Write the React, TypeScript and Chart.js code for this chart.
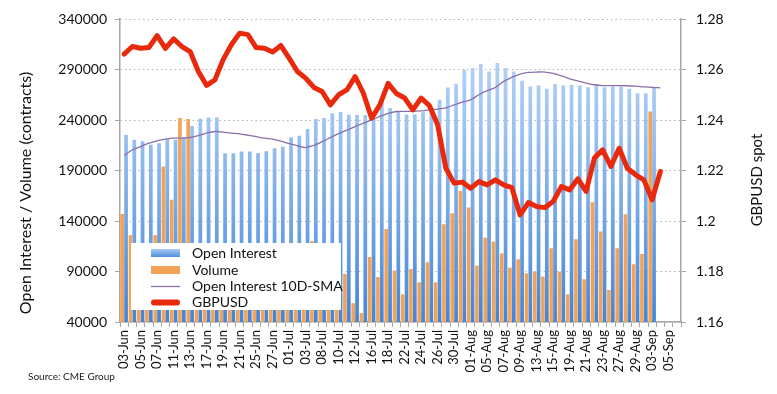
import React, { useEffect, useRef } from "react";
import { Chart, registerables } from "chart.js";

Chart.register(...registerables);

const categories = [
  "03-Jun","04-Jun","05-Jun","06-Jun","07-Jun","10-Jun","11-Jun","12-Jun","13-Jun","14-Jun",
  "17-Jun","18-Jun","19-Jun","20-Jun","21-Jun","24-Jun","25-Jun","26-Jun","27-Jun","28-Jun",
  "01-Jul","02-Jul","03-Jul","05-Jul","08-Jul","09-Jul","10-Jul","11-Jul","12-Jul","15-Jul",
  "16-Jul","17-Jul","18-Jul","19-Jul","22-Jul","23-Jul","24-Jul","25-Jul","26-Jul","29-Jul",
  "30-Jul","31-Jul","01-Aug","02-Aug","05-Aug","06-Aug","07-Aug","08-Aug","09-Aug","12-Aug",
  "13-Aug","14-Aug","15-Aug","16-Aug","19-Aug","20-Aug","21-Aug","22-Aug","23-Aug","26-Aug",
  "27-Aug","28-Aug","29-Aug","30-Aug","03-Sep","04-Sep","05-Sep","06-Sep",
];

const openInterest = [
  225300, 220400, 219000, 215400, 217000, 221000, 220400, 223000, 234000, 241200,
  242500, 242500, 207000, 207000, 208800, 208800, 207200, 209000, 212000, 213400,
  222800, 224300, 231000, 241000, 242000, 246800, 247800, 245100, 245000, 245000,
  241200, 257700, 251800, 247800, 245500, 245800, 247800, 248400, 260000, 272300,
  276000, 289700, 291400, 295500, 288000, 296400, 291400, 288000, 278800, 273200,
  274100, 270900, 275600, 274100, 275000, 274100, 272500, 275600, 272500, 273200,
  273200, 270900, 266600, 266600, 271600,
];

const volume = [
  147000, 126000, 95000, 100000, 126000, 194000, 161000, 242000, 241000, 90000,
  80000, 105000, 75000, 85000, 70000, 95000, 80000, 100000, 65000, 90000,
  110000, 85000, 95000, 120000, 75000, 100000, 93000, 87600, 58600, 48800,
  104300, 84500, 132000, 91000, 67400, 92500, 79300, 99200, 79300, 136800,
  147700, 169800, 153300, 95800, 123500, 119600, 108000, 93800, 102100, 88300,
  89900, 84900, 113000, 89900, 67400, 122000, 82300, 158600, 129500, 71700,
  113000, 146700, 97200, 107400, 248400,
];

const oiSma = [
  204800, 210500, 213700, 217000, 219400, 221000, 222000, 222000, 222700, 224600,
  227000, 228600, 228000, 227000, 226300, 225000, 223500, 222000, 221000, 219000,
  216500, 214500, 212700, 215000, 218500, 222500, 226500, 230000, 233500, 237000,
  240000, 243500, 246500, 248400, 248500, 248500, 249000, 250100, 250800, 252000,
  255000, 257700, 260000, 265000, 269000, 272200, 278200, 282200, 285500, 287100,
  287500, 287500, 286100, 283800, 280800, 278800, 276500, 274900, 274100, 274000,
  274000, 273900, 273500, 272800, 272200, 271900,
];

const gbpusd = [
  1.2661, 1.2691, 1.2684, 1.2687, 1.2734, 1.2684, 1.2721, 1.2691, 1.2671, 1.2592,
  1.2537, 1.2559, 1.2639, 1.2698, 1.2744, 1.2738, 1.2687, 1.2684, 1.2669, 1.2695,
  1.2645, 1.2592, 1.2566, 1.2529, 1.2513, 1.2460, 1.2500, 1.2519, 1.2572, 1.2506,
  1.2407, 1.2460, 1.2545, 1.2505, 1.2487, 1.2440, 1.2487, 1.2457, 1.2381, 1.2209,
  1.2150, 1.2154, 1.2130, 1.2156, 1.2143, 1.2163, 1.2143, 1.2132, 1.2024, 1.2073,
  1.2057, 1.2053, 1.2077, 1.2136, 1.2123, 1.2167, 1.2117, 1.2249, 1.2282, 1.2216,
  1.2288, 1.2209, 1.2183, 1.2163, 1.2084, 1.2196,
];

const leftTicks = [40000, 90000, 140000, 190000, 240000, 290000, 340000];
const rightTicks = [1.16, 1.18, 1.2, 1.22, 1.24, 1.26, 1.28];

const seriesNames = ["Open Interest", "Volume", "Open Interest 10D-SMA", "GBPUSD"];
const leftTitle = "Open Interest / Volume (contracts)";
const rightTitle = "GBPUSD spot";
const sourceText = "Source: CME Group";

const FONT = "Lato, 'Noto Sans', sans-serif";
const BLUE = "#6fa6e8";
const ORANGE = "#f1a35a";
const RED = "#e8290b";
const PURPLE = "#8a70ad";
const AXIS_GRAY = "#a6a6a6";

const decorPlugin = {
  id: "decor",
  afterDatasetsDraw(chart: any) {
    const ctx = chart.ctx as CanvasRenderingContext2D;
    ctx.save();
    const lx = 131, ly = 243, lw = 210, lh = 67;
    ctx.fillStyle = "#ffffff";
    ctx.fillRect(lx, ly, lw, lh);
    const rows = [253, 270, 286.5, 302.5];
    const sx = 151, sw = 29, tx = 192;
    const g = ctx.createLinearGradient(0, rows[0] - 4, 0, rows[0] + 4);
    g.addColorStop(0, "#a9cbf3");
    g.addColorStop(1, "#4f8edc");
    ctx.fillStyle = g;
    ctx.fillRect(sx, rows[0] - 4, sw, 8);
    ctx.fillStyle = ORANGE;
    ctx.fillRect(sx, rows[1] - 4, sw, 8);
    ctx.strokeStyle = PURPLE;
    ctx.lineWidth = 1.3;
    ctx.beginPath();
    ctx.moveTo(sx, rows[2]);
    ctx.lineTo(sx + sw, rows[2]);
    ctx.stroke();
    ctx.strokeStyle = RED;
    ctx.lineWidth = 6;
    ctx.lineCap = "round";
    ctx.beginPath();
    ctx.moveTo(sx + 3, rows[3]);
    ctx.lineTo(sx + sw - 3, rows[3]);
    ctx.stroke();
    ctx.fillStyle = "#111";
    ctx.font = `14px ${FONT}`;
    ctx.textBaseline = "middle";
    ctx.textAlign = "left";
    seriesNames.forEach((n, i) => ctx.fillText(n, tx, rows[i]));
    ctx.restore();
  },
  afterDraw(chart: any) {
    const ctx = chart.ctx as CanvasRenderingContext2D;
    ctx.save();
    ctx.fillStyle = "#111";
    ctx.textAlign = "center";
    ctx.textBaseline = "middle";
    ctx.font = `16px ${FONT}`;
    ctx.translate(25.5, 193);
    ctx.rotate(-Math.PI / 2);
    ctx.fillText(leftTitle, 0, 0);
    ctx.restore();

    ctx.save();
    ctx.fillStyle = "#111";
    ctx.textAlign = "center";
    ctx.textBaseline = "middle";
    ctx.font = `15px ${FONT}`;
    ctx.translate(757, 180);
    ctx.rotate(-Math.PI / 2);
    ctx.fillText(rightTitle, 0, 0);
    ctx.restore();

    ctx.save();
    ctx.fillStyle = "#222";
    ctx.font = `10px ${FONT}`;
    ctx.textAlign = "left";
    ctx.textBaseline = "middle";
    ctx.fillText(sourceText, 28, 377);
    ctx.restore();
  },
};

let gradCache: any = null;
function blueFill(context: any) {
  const chart = context.chart;
  const area = chart.chartArea;
  if (!area) return BLUE;
  if (gradCache && gradCache.top === area.top && gradCache.bottom === area.bottom) return gradCache.g;
  const g = chart.ctx.createLinearGradient(0, area.top, 0, area.bottom);
  g.addColorStop(0, "#c3dbf8");
  g.addColorStop(0.35, "#9cc3f1");
  g.addColorStop(1, "#4485d6");
  gradCache = { top: area.top, bottom: area.bottom, g };
  return g;
}

export default function App() {
  const ref = useRef<HTMLCanvasElement | null>(null);
  useEffect(() => {
    if (!ref.current) return;
    const chart = new Chart(ref.current, {
      type: "bar",
      data: {
        labels: categories,
        datasets: [
          {
            type: "line",
            label: seriesNames[3],
            data: gbpusd,
            yAxisID: "y1",
            borderColor: RED,
            borderWidth: 5,
            pointRadius: 0,
            borderJoinStyle: "round",
            borderCapStyle: "round",
            tension: 0,
            order: 0,
          } as any,
          {
            type: "line",
            label: seriesNames[2],
            data: oiSma,
            yAxisID: "y",
            borderColor: PURPLE,
            borderWidth: 1.3,
            pointRadius: 0,
            tension: 0.3,
            order: 1,
          } as any,
          {
            type: "bar",
            label: seriesNames[0],
            data: openInterest,
            yAxisID: "y",
            backgroundColor: blueFill,
            categoryPercentage: 0.94,
            barPercentage: 0.96,
            order: 3,
          } as any,
          {
            type: "bar",
            label: seriesNames[1],
            data: volume,
            yAxisID: "y",
            backgroundColor: ORANGE,
            categoryPercentage: 0.94,
            barPercentage: 0.94,
            order: 2,
          } as any,
        ],
      },
      options: {
        responsive: false,
        animation: false,
        layout: { padding: { top: 19, left: 0, right: 0, bottom: 0 } },
        plugins: { legend: { display: false }, tooltip: { enabled: false } },
        scales: {
          x: {
            offset: true,
            grid: {
              offset: true,
              drawOnChartArea: false,
              drawTicks: true,
              tickLength: 5,
              tickColor: AXIS_GRAY,
            },
            border: { color: AXIS_GRAY, width: 1.5 },
            ticks: {
              autoSkip: false,
              maxRotation: 90,
              minRotation: 90,
              padding: 3,
              color: "#111",
              font: { family: FONT, size: 13 },
              callback: (_v: any, i: number) => (i % 2 === 0 ? categories[i] : ""),
            },
            afterFit: (s: any) => {
              s.height = 72;
            },
          },
          y: {
            position: "left",
            min: leftTicks[0],
            max: leftTicks[leftTicks.length - 1],
            afterBuildTicks: (s: any) => {
              s.ticks = leftTicks.map((v) => ({ value: v }));
            },
            grid: {
              color: "#b5b5b5",
              lineWidth: 1,
              drawTicks: true,
              tickLength: 5,
              tickColor: AXIS_GRAY,
              tickBorderDash: [],
            },
            border: { color: AXIS_GRAY, width: 1.5, dash: [1.5, 3] },
            ticks: {
              padding: 8,
              color: "#111",
              font: { family: FONT, size: 14 },
              callback: (v: any) => String(v),
            },
            afterFit: (s: any) => {
              s.width = 120;
            },
          },
          y1: {
            position: "right",
            min: rightTicks[0],
            max: rightTicks[rightTicks.length - 1],
            afterBuildTicks: (s: any) => {
              s.ticks = rightTicks.map((v) => ({ value: v }));
            },
            grid: {
              drawOnChartArea: false,
              drawTicks: true,
              tickLength: 5,
              tickColor: AXIS_GRAY,
            },
            border: { color: AXIS_GRAY, width: 1.5 },
            ticks: {
              padding: 10,
              color: "#111",
              font: { family: FONT, size: 14 },
              callback: (v: any) => String(+Number(v).toFixed(2)),
            },
            afterFit: (s: any) => {
              s.width = 96;
            },
          },
        },
      },
      plugins: [decorPlugin],
    } as any);
    return () => chart.destroy();
  }, []);

  return (
    <div style={{ position: "fixed", left: 0, top: 0, width: 777, height: 394, background: "#fff" }}>
      <canvas ref={ref} width={777} height={394} style={{ width: 777, height: 394, display: "block" }} />
    </div>
  );
}
